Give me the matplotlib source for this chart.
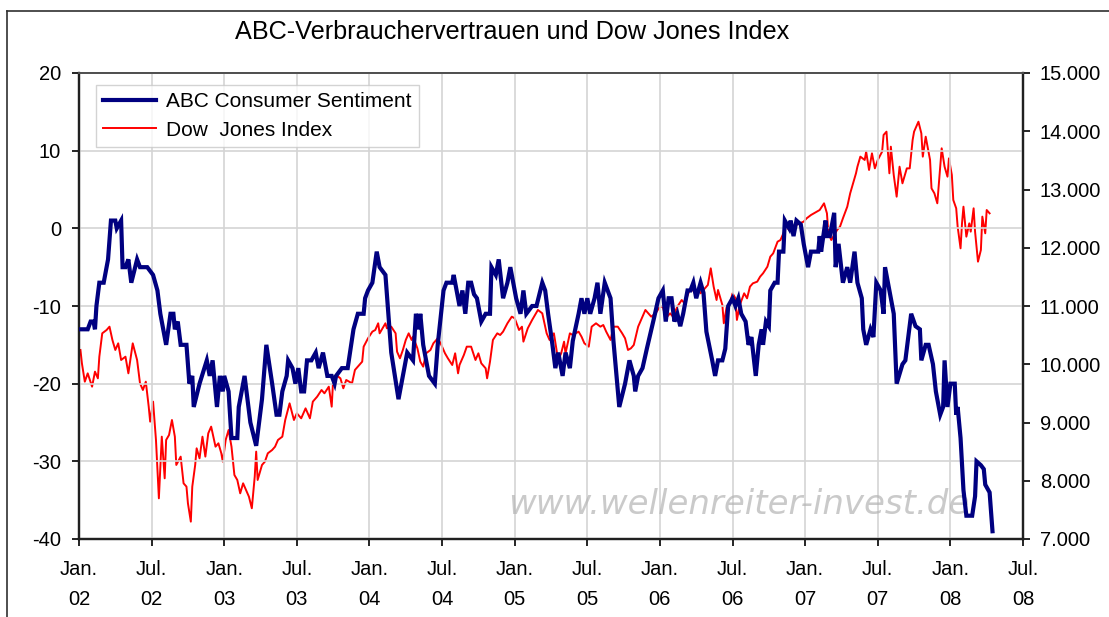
import matplotlib
matplotlib.use("Agg")
import matplotlib.pyplot as plt
from matplotlib.lines import Line2D
from matplotlib.ticker import FuncFormatter

plt.rcParams['font.family'] = ['Liberation Sans', 'DejaVu Sans']
plt.rcParams['axes.unicode_minus'] = False

# ABC consumer sentiment (weekly, left axis), x in fractional years
abc_t = [2002.00, 2002.06, 2002.08, 2002.10, 2002.11, 2002.12, 2002.14, 2002.17, 2002.20, 2002.22,
         2002.25, 2002.26, 2002.29, 2002.30, 2002.32, 2002.34, 2002.36, 2002.40, 2002.42, 2002.47,
         2002.51, 2002.54, 2002.56, 2002.58, 2002.60, 2002.63, 2002.65, 2002.66, 2002.68, 2002.70,
         2002.74, 2002.76, 2002.78, 2002.79, 2002.83, 2002.88, 2002.90, 2002.92, 2002.95, 2002.97,
         2002.99, 2003.00, 2003.03, 2003.05, 2003.09, 2003.10, 2003.14, 2003.18, 2003.22, 2003.26,
         2003.29, 2003.33, 2003.36, 2003.38, 2003.40, 2003.43, 2003.44, 2003.47, 2003.49, 2003.51,
         2003.53, 2003.55, 2003.57, 2003.60, 2003.63, 2003.65, 2003.68, 2003.71, 2003.74, 2003.76,
         2003.77, 2003.81, 2003.85, 2003.89, 2003.92, 2003.96, 2003.97, 2003.99, 2004.02, 2004.05,
         2004.07, 2004.11, 2004.15, 2004.20, 2004.22, 2004.26, 2004.30, 2004.32, 2004.34, 2004.35,
         2004.37, 2004.41, 2004.45, 2004.47, 2004.51, 2004.53, 2004.57, 2004.58, 2004.61, 2004.62,
         2004.64, 2004.66, 2004.68, 2004.70, 2004.72, 2004.74, 2004.77, 2004.80, 2004.83, 2004.84,
         2004.87, 2004.89, 2004.92, 2004.95, 2004.97, 2004.99, 2005.01, 2005.04, 2005.06, 2005.08,
         2005.12, 2005.15, 2005.19, 2005.21, 2005.23, 2005.26, 2005.28, 2005.30, 2005.33, 2005.35,
         2005.38, 2005.40, 2005.44, 2005.46, 2005.48, 2005.50, 2005.52, 2005.55, 2005.57, 2005.59,
         2005.62, 2005.66, 2005.68, 2005.72, 2005.76, 2005.79, 2005.82, 2005.83, 2005.85, 2005.88,
         2005.91, 2005.96, 2005.99, 2006.02, 2006.04, 2006.06, 2006.08, 2006.10, 2006.12, 2006.14,
         2006.16, 2006.19, 2006.21, 2006.23, 2006.25, 2006.28, 2006.30, 2006.32, 2006.36, 2006.38,
         2006.40, 2006.43, 2006.45, 2006.47, 2006.50, 2006.52, 2006.54, 2006.56, 2006.59, 2006.61,
         2006.63, 2006.66, 2006.68, 2006.70, 2006.71, 2006.73, 2006.75, 2006.76, 2006.79, 2006.81,
         2006.82, 2006.85, 2006.86, 2006.89, 2006.90, 2006.92, 2006.94, 2006.97, 2006.99, 2007.02,
         2007.04, 2007.07, 2007.09, 2007.10, 2007.11, 2007.14, 2007.15, 2007.17, 2007.20, 2007.21,
         2007.23, 2007.26, 2007.29, 2007.31, 2007.34, 2007.36, 2007.39, 2007.40, 2007.42, 2007.45,
         2007.47, 2007.49, 2007.52, 2007.54, 2007.55, 2007.59, 2007.61, 2007.63, 2007.67, 2007.69,
         2007.73, 2007.76, 2007.79, 2007.80, 2007.83, 2007.85, 2007.88, 2007.90, 2007.93, 2007.95,
         2007.96, 2007.98, 2008.00, 2008.03, 2008.04, 2008.05, 2008.07, 2008.09, 2008.11, 2008.15,
         2008.17, 2008.18, 2008.21, 2008.23, 2008.24, 2008.27, 2008.29]
abc_v = [-13, -13, -12, -12, -13, -10, -7, -7, -4, 1,
         1, 0, 1, -5, -5, -4, -7, -4, -5, -5,
         -6, -8, -11, -13, -15, -11, -11, -13, -12, -15,
         -15, -20, -19, -23, -20, -17, -19, -17, -23, -19,
         -21, -19, -21, -27, -27, -23, -19, -25, -28, -22,
         -15, -20, -24, -24, -21, -19, -17, -18, -20, -18,
         -21, -21, -17, -17, -16, -18, -16, -19, -19, -20,
         -19, -18, -18, -13, -11, -11, -9, -8, -7, -3,
         -5, -6, -16, -22, -20, -16, -17, -11, -13, -11,
         -15, -19, -20, -15, -8, -7, -7, -6, -9, -10,
         -8, -11, -7, -7, -8.5, -9, -12, -11, -11, -5,
         -6, -4, -9, -7, -5, -7, -9, -11, -8, -11,
         -10, -10, -7, -8, -11, -15, -18, -16, -19, -16,
         -18, -14.5, -11, -9, -11, -9, -11, -9, -7, -11,
         -7, -9, -14.5, -23, -20, -17, -19, -21, -19, -18,
         -15.5, -11.5, -9, -8, -12, -9, -9, -12, -11, -12.6,
         -11, -8, -8, -7, -9, -7, -8.3, -13.3, -17, -19,
         -17, -17, -15.5, -10, -9, -10, -9, -11, -12, -15,
         -14, -19, -15, -13, -15, -12, -12.6, -8, -7, -7,
         -3, -3, 1, 0, 1, -1, 1, 0.5, -2, -5,
         -3, -3, -3, -1, -3, 1, -1, -1, 2, -5,
         -2, -7, -5, -7, -3, -7, -9, -13, -15, -13,
         -14, -7, -8, -11, -5, -9, -11, -20, -17.5, -17,
         -11, -12.6, -13, -17, -15, -15, -17.5, -21, -24, -23,
         -17, -23, -20, -20, -24, -23, -27, -33.7, -37, -37,
         -34.5, -30, -30.5, -31, -33, -34, -39]

# Dow Jones Index (right axis)
dow_t = [2002.01, 2002.02, 2002.04, 2002.06, 2002.09, 2002.11, 2002.13, 2002.14, 2002.16, 2002.19,
         2002.21, 2002.23, 2002.25, 2002.27, 2002.29, 2002.32, 2002.34, 2002.36, 2002.37, 2002.40,
         2002.42, 2002.44, 2002.46, 2002.48, 2002.49, 2002.51, 2002.53, 2002.55, 2002.57, 2002.59,
         2002.60, 2002.62, 2002.64, 2002.66, 2002.67, 2002.70, 2002.72, 2002.74, 2002.75, 2002.77,
         2002.78, 2002.80, 2002.81, 2002.83, 2002.85, 2002.87, 2002.89, 2002.91, 2002.94, 2002.96,
         2002.98, 2002.99, 2003.01, 2003.03, 2003.05, 2003.07, 2003.09, 2003.11, 2003.13, 2003.15,
         2003.17, 2003.19, 2003.21, 2003.22, 2003.23, 2003.26, 2003.28, 2003.30, 2003.33, 2003.35,
         2003.37, 2003.40, 2003.42, 2003.45, 2003.48, 2003.50, 2003.53, 2003.56, 2003.59, 2003.61,
         2003.64, 2003.67, 2003.69, 2003.72, 2003.74, 2003.75, 2003.77, 2003.80, 2003.82, 2003.84,
         2003.88, 2003.90, 2003.92, 2003.95, 2003.96, 2003.99, 2004.02, 2004.04, 2004.06,
         2004.07, 2004.11, 2004.12, 2004.15, 2004.18, 2004.19, 2004.21, 2004.23, 2004.25, 2004.27,
         2004.29, 2004.30, 2004.33, 2004.35, 2004.37, 2004.39, 2004.42, 2004.44, 2004.47, 2004.49,
         2004.52, 2004.54, 2004.57, 2004.59, 2004.61, 2004.62, 2004.65, 2004.67, 2004.70, 2004.73,
         2004.75, 2004.77, 2004.80, 2004.81, 2004.83, 2004.85, 2004.88, 2004.90, 2004.92, 2004.95,
         2004.98, 2005.00, 2005.03, 2005.05, 2005.06, 2005.09, 2005.12, 2005.14, 2005.16, 2005.19,
         2005.20, 2005.22, 2005.24, 2005.27, 2005.29, 2005.30, 2005.32, 2005.34, 2005.35, 2005.38,
         2005.40, 2005.44, 2005.46, 2005.48, 2005.51, 2005.53, 2005.56, 2005.59, 2005.61, 2005.63,
         2005.66, 2005.68, 2005.71, 2005.74, 2005.76, 2005.78, 2005.80, 2005.82, 2005.85, 2005.87,
         2005.90, 2005.92, 2005.94, 2005.97, 2006.00, 2006.02, 2006.04, 2006.07, 2006.09, 2006.12,
         2006.15, 2006.17, 2006.20, 2006.22, 2006.24, 2006.27,
         2006.28, 2006.30, 2006.33, 2006.35, 2006.37, 2006.39, 2006.40, 2006.43, 2006.44, 2006.46,
         2006.48, 2006.50, 2006.52, 2006.53, 2006.55, 2006.58, 2006.60, 2006.62, 2006.64, 2006.67,
         2006.69, 2006.71, 2006.74, 2006.76, 2006.78, 2006.81, 2006.83, 2006.85, 2006.87, 2006.89,
         2006.92, 2006.94, 2006.96, 2006.99, 2007.01, 2007.04, 2007.06, 2007.08, 2007.10, 2007.13,
         2007.15, 2007.16, 2007.18, 2007.20, 2007.22, 2007.24, 2007.26, 2007.29, 2007.31, 2007.33,
         2007.35, 2007.36, 2007.38, 2007.41, 2007.42, 2007.44, 2007.46, 2007.48, 2007.50, 2007.53,
         2007.54, 2007.56, 2007.58, 2007.59, 2007.61, 2007.63, 2007.65, 2007.67, 2007.70, 2007.72,
         2007.74, 2007.75, 2007.78, 2007.80, 2007.81, 2007.83, 2007.86, 2007.87, 2007.89, 2007.91,
         2007.93, 2007.94, 2007.96, 2007.98, 2007.99, 2008.01, 2008.02, 2008.04, 2008.05, 2008.07,
         2008.08, 2008.09, 2008.11, 2008.13, 2008.14, 2008.16, 2008.17, 2008.19, 2008.21, 2008.22,
         2008.24, 2008.25, 2008.27]
dow_v = [10245, 10016, 9701, 9844, 9615, 9873, 9758, 10130, 10531, 10588,
         10645, 10417, 10245, 10359, 10073, 10130, 9844, 10188, 10359, 10073,
         9673, 9558, 9701, 9272, 9015, 9358, 8700, 7698, 8757, 8042,
         8700, 8786, 9043, 8757, 8271, 8414, 7956, 7899, 7613, 7298,
         7899, 8271, 8557, 8385, 8757, 8414, 8814, 8929, 8585, 8643,
         8471, 8328, 8700, 8871, 8585, 8099, 8013, 7784, 7956, 7842,
         7727, 7527, 8071, 8500, 8013, 8271, 8328, 8471, 8528, 8585,
         8700, 8757, 9043, 9329, 9043, 9158, 9072, 9243, 9072, 9358,
         9444, 9558, 9501, 9615, 9272, 9730, 9816, 9758, 9587, 9730,
         9673, 9902, 9959, 10045, 10302, 10445, 10560, 10588, 10703,
         10531, 10703, 10617, 10645, 10531, 10216, 10102, 10245, 10417, 10531,
         10417, 10474, 10273, 10045, 9959, 10188, 10245, 10359, 10445, 10359,
         10188, 10102, 9987, 10188, 9844, 9987, 10159, 10302, 10302, 10073,
         10188, 10016, 9930, 9758, 10045, 10417, 10531, 10502, 10560, 10703,
         10817, 10789, 10588, 10645, 10388, 10617, 10760, 10846, 10932, 10874,
         10760, 10531, 10417, 10531, 10216, 10073, 10188, 10388, 10188, 10531,
         10502, 10560, 10474, 10359, 10302, 10645, 10703, 10645, 10674, 10560,
         10417, 10645, 10645, 10531, 10445, 10245, 10273, 10331, 10645, 10760,
         10932, 10874, 10817, 10874, 10989, 10989, 10789, 10874, 10817, 10989,
         11103, 11046, 11246, 11303, 11218, 11275,
         11218, 11275, 11361, 11647, 11332, 11103, 11275, 11017, 10703, 10989,
         11017, 11218, 11132, 10760, 11017, 11218, 11132, 11332, 11389, 11418,
         11504, 11561, 11675, 11847, 11904, 12104, 12133, 12248, 12362, 12305,
         12362, 12391, 12419, 12448, 12505, 12562, 12591, 12620, 12648, 12763,
         12591, 12248, 12133, 12219, 12305, 12362, 12505, 12705, 12934, 13106,
         13278, 13392, 13564, 13507, 13650, 13335, 13621, 13363, 13507, 13650,
         13936, 13993, 13278, 13735, 13249, 12877, 13392, 13106, 13363, 13363,
         13850, 13993, 14164, 13964, 13564, 13907, 13507, 13020, 12934, 12763,
         13392, 13707, 13392, 13220, 13535, 13249, 12820, 12677, 12362, 11990,
         12419, 12705, 12190, 12419, 12276, 12677, 12276, 11761, 11962, 12534,
         12248, 12648, 12591]

x_ticks = [2002.0, 2002.5, 2003.0, 2003.5, 2004.0, 2004.5, 2005.0, 2005.5,
           2006.0, 2006.5, 2007.0, 2007.5, 2008.0, 2008.5]
x_labels = ["Jan.\n02", "Jul.\n02", "Jan.\n03", "Jul.\n03", "Jan.\n04", "Jul.\n04", "Jan.\n05",
            "Jul.\n05", "Jan.\n06", "Jul.\n06", "Jan.\n07", "Jul.\n07", "Jan.\n08", "Jul.\n08"]

fig = plt.figure(figsize=(11.09, 6.17), dpi=100)
ax = fig.add_axes([79 / 1109, 78 / 617, 944 / 1109, 466 / 617])
ax2 = ax.twinx()

# blue line should sit on top of the red one
ax.set_zorder(ax2.get_zorder() + 1)
ax.patch.set_visible(False)

ax2.plot(dow_t, dow_v, color="#ff0000", lw=1.4, label="Dow  Jones Index")
ax.plot(abc_t, abc_v, color="#000080", lw=3.0, solid_joinstyle="miter",
        label="ABC Consumer Sentiment", zorder=3)

ax.set_xlim(2002.0, 2008.5)
ax.set_ylim(-40, 20)
ax.set_yticks([-40, -30, -20, -10, 0, 10, 20])
ax2.set_ylim(7000, 15000)
ax2.set_yticks(range(7000, 15001, 1000))
ax2.yaxis.set_major_formatter(FuncFormatter(lambda v, p: f"{int(v):,}".replace(",", ".")))

ax.set_xticks(x_ticks)
ax.set_xticklabels(x_labels)
for lab in ax.get_xticklabels():
    lab.set_linespacing(1.72)

ax.grid(True, color="#d4d4d4", lw=1.2)
ax.set_axisbelow(True)

ax.tick_params(axis="y", labelsize=14.5, length=5, width=1.2, pad=8, direction="out")
ax.tick_params(axis="x", labelsize=14.5, length=5, width=1.2, pad=10, direction="out")
ax2.tick_params(axis="y", labelsize=14.5, length=5, width=1.2, pad=7, direction="out")

for a in (ax, ax2):
    for side in ("left", "bottom", "right"):
        a.spines[side].set_color("#202020")
        a.spines[side].set_linewidth(1.6)
    a.spines["top"].set_color("#505050")
    a.spines["top"].set_linewidth(1.4)

# legend with both series
h1, l1 = ax.get_legend_handles_labels()
h2, l2 = ax2.get_legend_handles_labels()
leg = ax.legend(h1 + h2, l1 + l2, loc="upper left", bbox_to_anchor=(0.018, 0.974),
                borderaxespad=0, fontsize=15, frameon=True, fancybox=False,
                handlelength=2.55, handletextpad=0.45, labelspacing=0.45,
                borderpad=0.35)
leg.get_frame().set_edgecolor("#c8c8c8")
leg.get_frame().set_linewidth(1.0)

# watermark
ax.text(0.455, 0.054, "www.wellenreiter-invest.de", transform=ax.transAxes,
        family="DejaVu Sans", fontsize=24.5, style="italic", color="#b4b4b4", alpha=0.7,
        ha="left", va="baseline", zorder=2)

fig.text(512.5 / 1109, 1 - 32 / 617, "ABC-Verbrauchervertrauen und Dow Jones Index",
         ha="center", va="center", fontsize=18.2)

# outer frame (cut off on the right and bottom)
fig.add_artist(Line2D([7 / 1109, 7 / 1109], [1 - 11 / 617, 0], transform=fig.transFigure,
                      color="#303030", lw=1.2))
fig.add_artist(Line2D([7 / 1109, 1], [1 - 11 / 617, 1 - 11 / 617], transform=fig.transFigure,
                      color="#303030", lw=1.2))

fig.savefig("out.png", dpi=100)
